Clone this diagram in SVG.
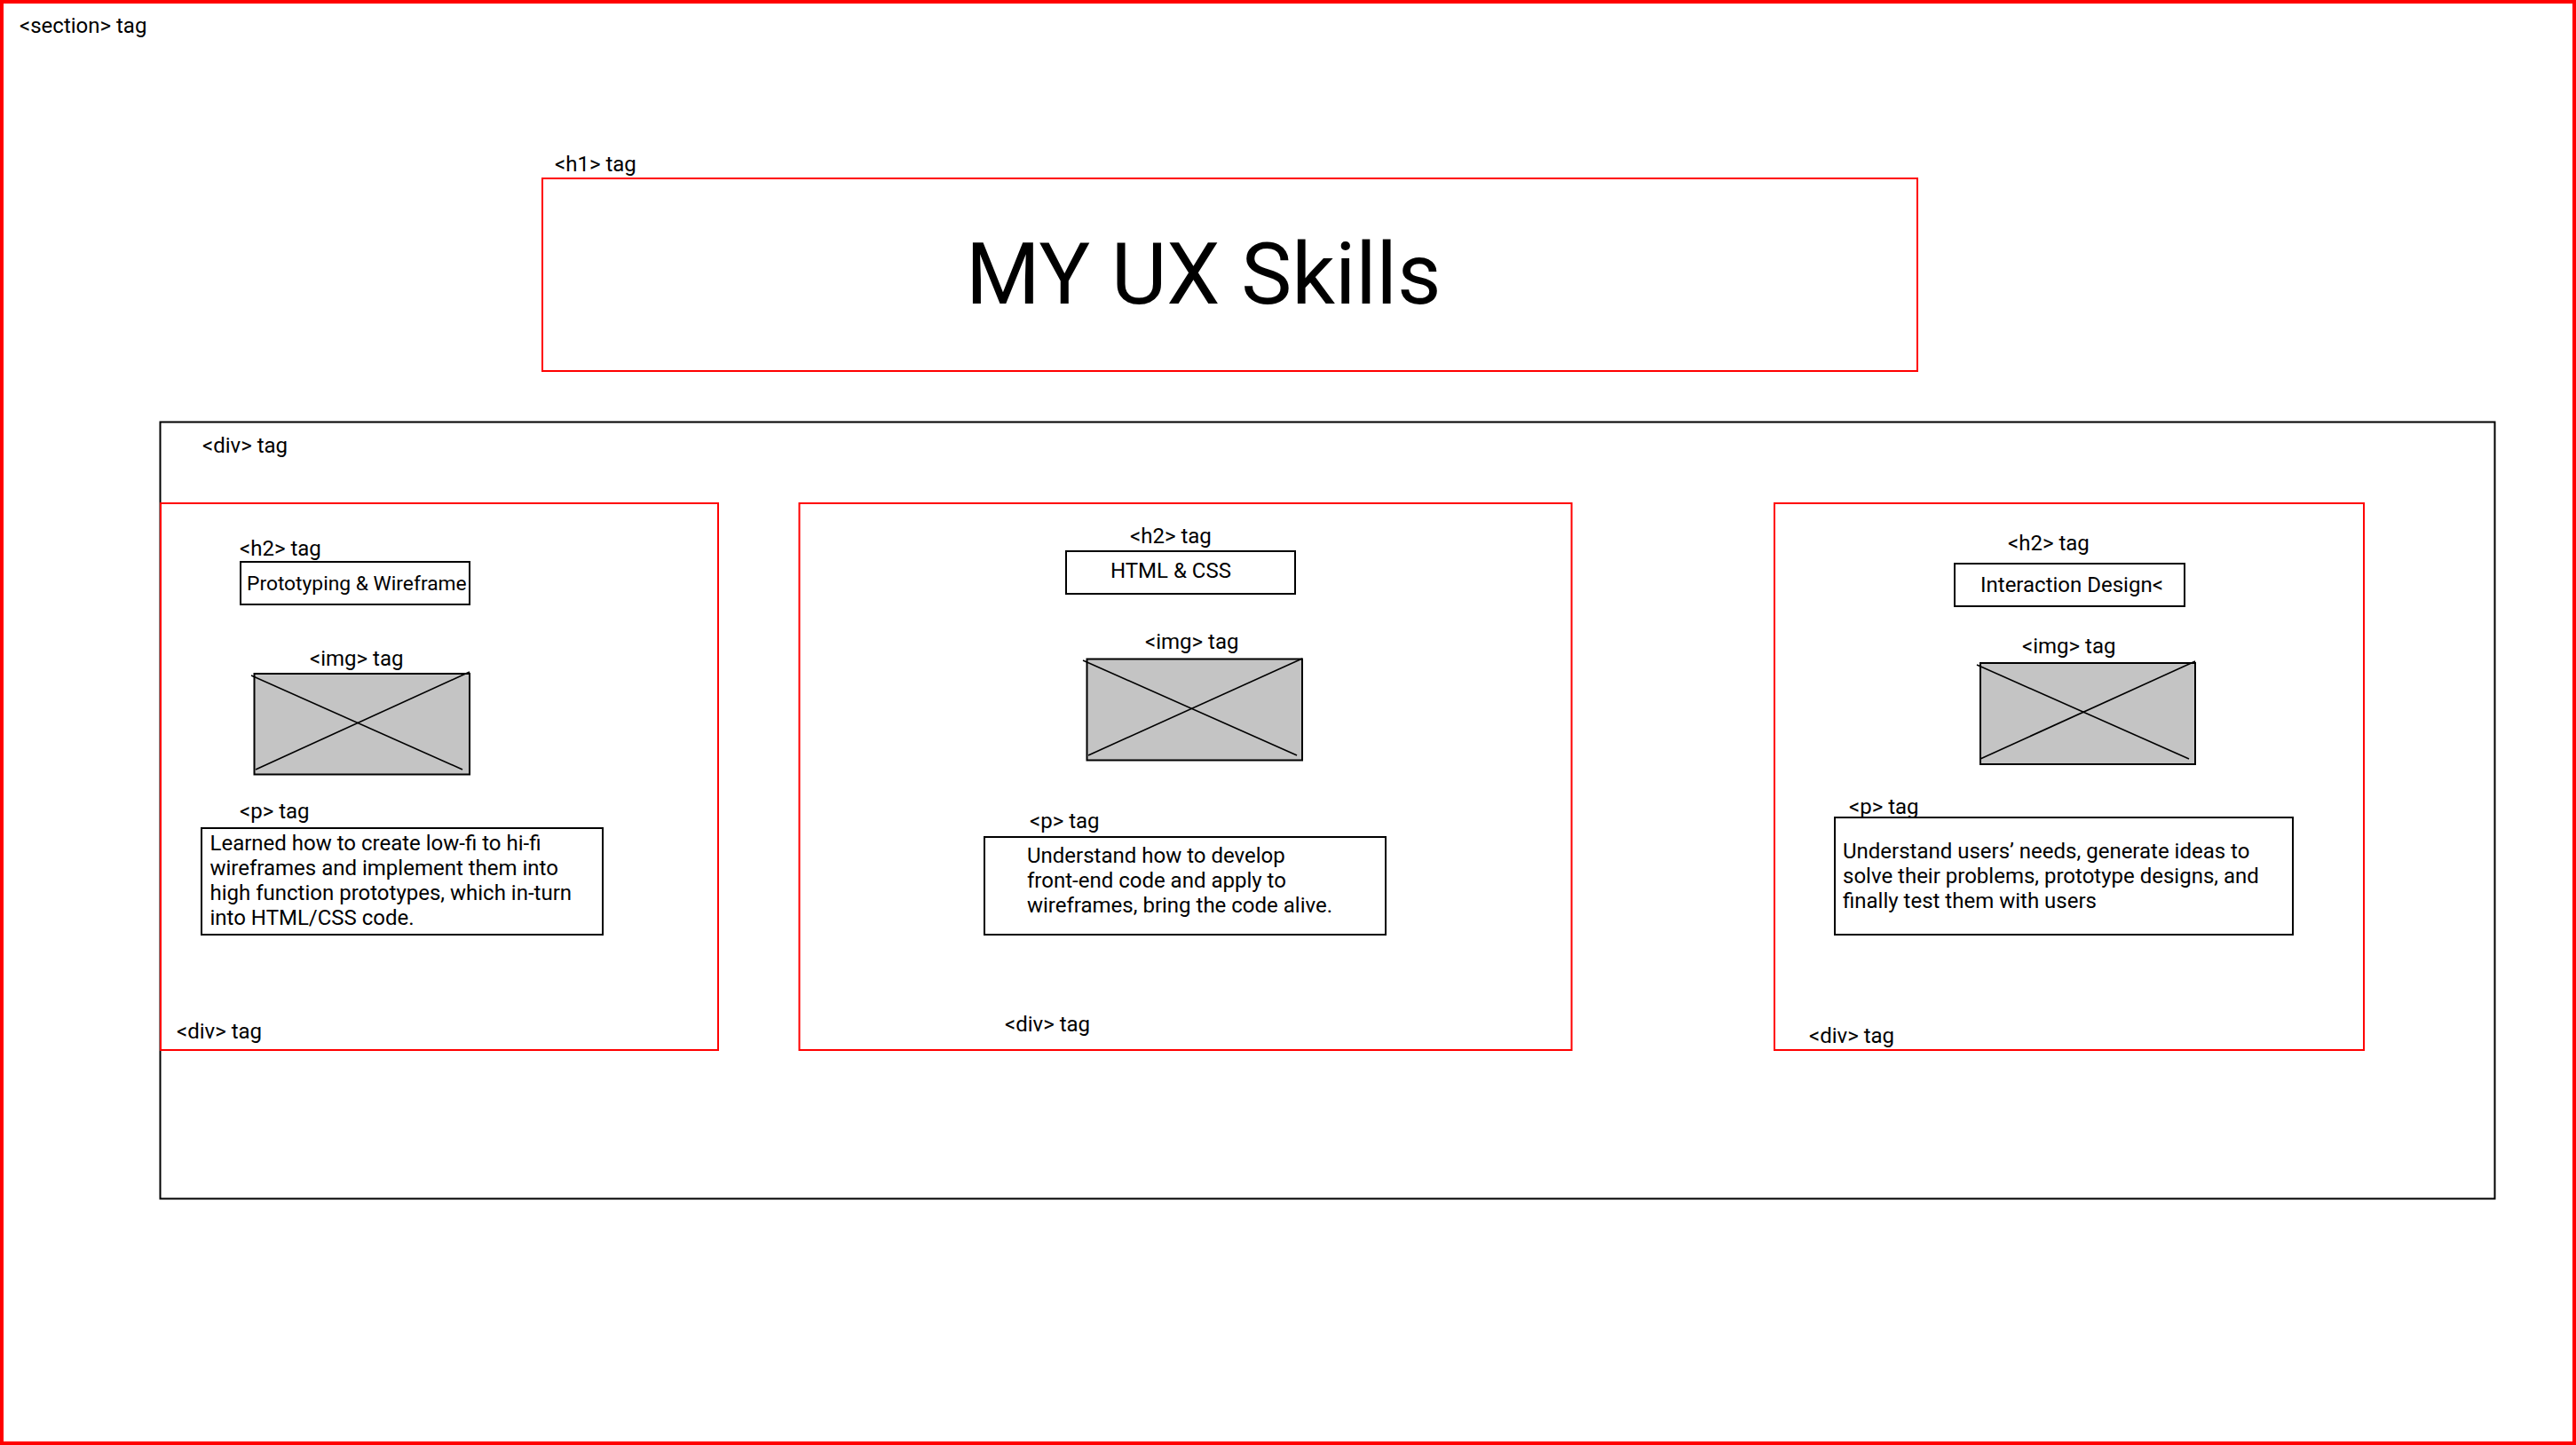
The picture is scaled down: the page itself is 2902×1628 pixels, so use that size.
<svg xmlns="http://www.w3.org/2000/svg" width="2902" height="1628" viewBox="0 0 2902 1628">
  <style>
    text { font-family: Roboto, "Liberation Sans", sans-serif; fill: #000; }
    .tag { font-size: 24px; }
    .h2 { font-size: 24px; }
    .h2s { font-size: 22.8px; }
    .body { font-size: 24px; }
    .title { font-size: 96px; }
    .red { fill: none; stroke: #ff0000; stroke-width: 2; }
    .frame { fill: #fff; stroke: #000; stroke-width: 2; }
    .img { fill: #c4c4c4; stroke: #000; stroke-width: 2; }
    .x { stroke: #000; stroke-width: 1.6; }
  </style>

  <rect width="2902" height="1628" fill="#fff"/>

  <!-- section element -->
  <g id="section">
    <rect x="2" y="2" width="2898" height="1624" fill="none" stroke="#ff0000" stroke-width="4"/>
    <text class="tag" x="22" y="37">&lt;section&gt; tag</text>
  </g>

  <!-- page heading -->
  <g id="h1">
    <text class="tag" x="625" y="193">&lt;h1&gt; tag</text>
    <rect class="red" x="611" y="201" width="1549" height="217"/>
    <text class="title" x="1088" y="342">MY UX Skills</text>
  </g>

  <!-- wrapping div -->
  <g id="outer-div">
    <rect x="180.5" y="475.5" width="2630" height="875" fill="none" stroke="#000" stroke-width="2"/>
    <text class="tag" x="228" y="510">&lt;div&gt; tag</text>
  </g>

  <!-- skill card: prototyping -->
  <g id="card-prototyping">
    <rect class="red" x="181" y="567" width="628" height="616"/>
    <text class="tag" x="270" y="626">&lt;h2&gt; tag</text>
    <rect class="frame" x="271" y="633" width="258" height="48"/>
    <text class="h2s" x="278" y="665">Prototyping &amp; Wireframe</text>
    <text class="tag" x="349" y="750">&lt;img&gt; tag</text>
    <rect class="img" x="286.5" y="759" width="242.5" height="113.5"/>
    <line class="x" x1="283" y1="761" x2="521" y2="867"/>
    <line class="x" x1="288" y1="867" x2="529" y2="757"/>
    <text class="tag" x="270" y="922">&lt;p&gt; tag</text>
    <rect class="frame" x="227" y="933" width="452" height="120"/>
    <text class="body" x="236.5" y="958">Learned how to create low-fi to hi-fi</text>
    <text class="body" x="236.5" y="986">wireframes and implement them into</text>
    <text class="body" x="236.5" y="1014">high function prototypes, which in-turn</text>
    <text class="body" x="236.5" y="1042">into HTML/CSS code.</text>
    <text class="tag" x="199" y="1170">&lt;div&gt; tag</text>
  </g>

  <!-- skill card: html and css -->
  <g id="card-html-css">
    <rect class="red" x="900.5" y="567" width="870" height="616"/>
    <text class="tag" x="1273" y="612">&lt;h2&gt; tag</text>
    <rect class="frame" x="1201" y="621" width="258" height="48"/>
    <text class="h2" x="1251" y="651">HTML &amp; CSS</text>
    <text class="tag" x="1290" y="731">&lt;img&gt; tag</text>
    <rect class="img" x="1224.5" y="742.5" width="242.5" height="114"/>
    <line class="x" x1="1220" y1="744" x2="1461" y2="851"/>
    <line class="x" x1="1226" y1="851" x2="1467" y2="742"/>
    <text class="tag" x="1160" y="933">&lt;p&gt; tag</text>
    <rect class="frame" x="1109" y="943" width="452" height="110"/>
    <text class="body" x="1157" y="972">Understand how to develop</text>
    <text class="body" x="1157" y="1000">front-end code and apply to</text>
    <text class="body" x="1157" y="1028">wireframes, bring the code alive.</text>
    <text class="tag" x="1132" y="1162">&lt;div&gt; tag</text>
  </g>

  <!-- skill card: interaction design -->
  <g id="card-interaction">
    <rect class="red" x="1999" y="567" width="664" height="616"/>
    <text class="tag" x="2262" y="620">&lt;h2&gt; tag</text>
    <rect class="frame" x="2202" y="635" width="259" height="48"/>
    <text class="h2" x="2231" y="667">Interaction Design&lt;</text>
    <text class="tag" x="2278" y="736">&lt;img&gt; tag</text>
    <rect class="img" x="2231" y="747" width="242" height="114"/>
    <line class="x" x1="2227" y1="749" x2="2466" y2="855"/>
    <line class="x" x1="2231" y1="855" x2="2473" y2="745"/>
    <text class="tag" x="2083" y="917">&lt;p&gt; tag</text>
    <rect class="frame" x="2067" y="921" width="516" height="132"/>
    <text class="body" x="2076" y="967">Understand users’ needs, generate ideas to</text>
    <text class="body" x="2076" y="995">solve their problems, prototype designs, and</text>
    <text class="body" x="2076" y="1023">finally test them with users</text>
    <text class="tag" x="2038" y="1175">&lt;div&gt; tag</text>
  </g>
</svg>
